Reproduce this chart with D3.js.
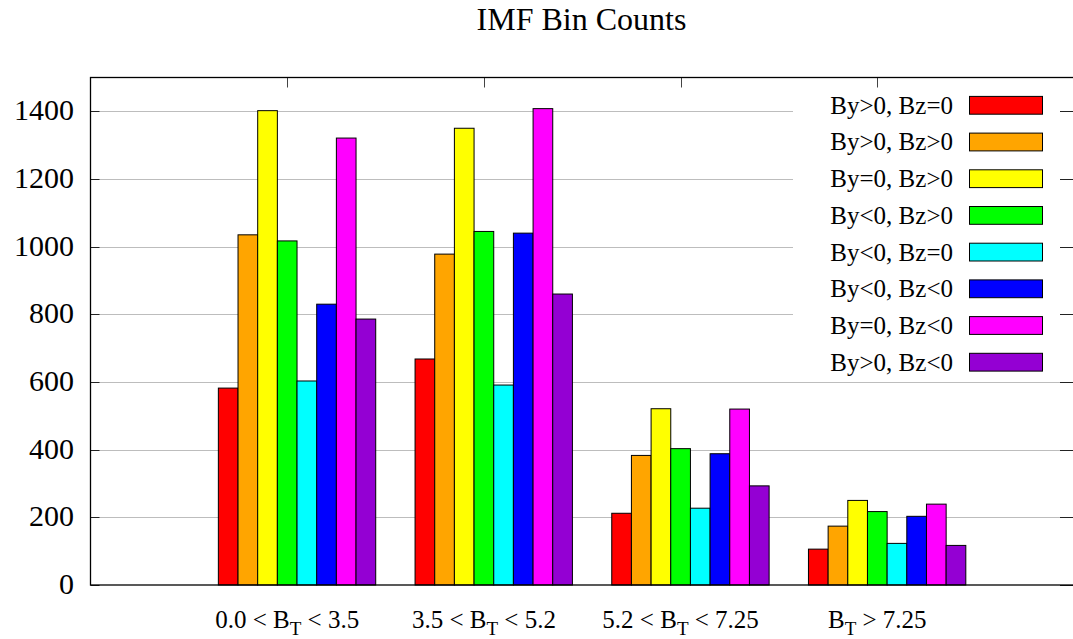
<!DOCTYPE html>
<html>
<head>
<meta charset="utf-8">
<script src="https://cdn.jsdelivr.net/npm/d3@7"></script>
<style>
  html, body { margin: 0; padding: 0; background: #fff; }
  svg { display: block; font-family: "Liberation Serif", "Times New Roman", serif; }
</style>
</head>
<body>
<svg id="chart" width="1073" height="639"></svg>
<script>
// ---- data ----
const categories = ["0.0 < B|T| < 3.5", "3.5 < B|T| < 5.2", "5.2 < B|T| < 7.25", "B|T| > 7.25"];
const seriesNames = ["By>0, Bz=0", "By>0, Bz>0", "By=0, Bz>0", "By<0, Bz>0",
                     "By<0, Bz=0", "By<0, Bz<0", "By=0, Bz<0", "By>0, Bz<0"];
const seriesColors = ["#ff0000", "#ffa500", "#ffff00", "#00ff00",
                      "#00ffff", "#0000ff", "#ff00ff", "#9400d3"];
// values[series][category]
const byPosBzZero = [582, 668, 212, 106];
const byPosBzPos  = [1035, 978, 383, 174];
const byZeroBzPos = [1402, 1350, 521, 250];
const byNegBzPos  = [1017, 1045, 403, 217];
const byNegBzZero = [603, 591, 227, 123];
const byNegBzNeg  = [830, 1040, 388, 203];
const byZeroBzNeg = [1321, 1408, 520, 239];
const byPosBzNeg  = [786, 860, 293, 117];
const seriesValues = [byPosBzZero, byPosBzPos, byZeroBzPos, byNegBzPos,
                      byNegBzZero, byNegBzNeg, byZeroBzNeg, byPosBzNeg];
const yTicks = [0, 200, 400, 600, 800, 1000, 1200, 1400];
const title = "IMF Bin Counts";

(function () {
// ---- layout ----
const svg = d3.select("#chart");
const pL = 90.5, pR = 1074, pT = 77.5, pB = 585;
const x = d3.scaleLinear().domain([-1, 4]).range([pL, pR]);
const y = d3.scaleLinear().domain([0, 1500]).range([pB, pT]);
const barW = 0.1; // in x units (8 bars + gap of 2)

// gridlines
svg.append("g").selectAll("line").data(yTicks.filter(d => d > 0)).join("line")
  .attr("x1", pL).attr("x2", pR)
  .attr("y1", d => Math.round(y(d)) + 0.5).attr("y2", d => Math.round(y(d)) + 0.5)
  .attr("stroke", "#bdbdbd").attr("stroke-width", 1);

// bottom ticks (hidden under bars)
svg.append("g").selectAll("line").data(categories).join("line")
  .attr("x1", (d, i) => x(i)).attr("x2", (d, i) => x(i))
  .attr("y1", pB).attr("y2", pB - 10)
  .attr("stroke", "#333");

// bars
const bars = [];
seriesValues.forEach((vals, j) => vals.forEach((v, i) => bars.push({i, j, v})));
svg.append("g").selectAll("rect").data(bars).join("rect")
  .attr("x", d => x(d.i + (d.j - 3.5) * barW))
  .attr("width", d => x(d.i + (d.j - 2.5) * barW) - x(d.i + (d.j - 3.5) * barW))
  .attr("y", d => y(d.v))
  .attr("height", d => y(0) - y(d.v))
  .attr("fill", d => seriesColors[d.j])
  .attr("stroke", "#000").attr("stroke-width", 1);

// legend (opaque box)
const keyG = svg.append("g");
const keyTop = 105.2, keyStep = 36.7;
keyG.append("rect").attr("x", 793).attr("y", 84).attr("width", 267).attr("height", 294)
  .attr("fill", "#fff");
seriesNames.forEach((name, j) => {
  const cy = keyTop + j * keyStep;
  keyG.append("text").attr("x", 953).attr("y", cy + 8.5)
    .attr("text-anchor", "end").attr("font-size", 25).attr("fill", "#000").text(name);
  keyG.append("rect").attr("x", 969.5).attr("y", cy - 8.8).attr("width", 73).attr("height", 17.8)
    .attr("fill", seriesColors[j]).attr("stroke", "#000").attr("stroke-width", 1);
});

// y ticks (left and right mirrored)
const tg = svg.append("g");
tg.selectAll("line.l").data(yTicks).join("line").attr("class", "l")
  .attr("x1", pL).attr("x2", pL + 9)
  .attr("y1", d => Math.round(y(d)) + 0.5).attr("y2", d => Math.round(y(d)) + 0.5)
  .attr("stroke", "#222");
tg.selectAll("line.r").data(yTicks).join("line").attr("class", "r")
  .attr("x1", pR).attr("x2", pR - 14)
  .attr("y1", d => Math.round(y(d)) + 0.5).attr("y2", d => Math.round(y(d)) + 0.5)
  .attr("stroke", "#222");
// top ticks
tg.selectAll("line.t").data(categories).join("line").attr("class", "t")
  .attr("x1", (d, i) => Math.round(x(i)) + 0.5).attr("x2", (d, i) => Math.round(x(i)) + 0.5)
  .attr("y1", pT).attr("y2", pT + 10)
  .attr("stroke", "#444");

// y tick labels
svg.append("g").selectAll("text").data(yTicks).join("text")
  .attr("x", 74).attr("y", d => y(d) + 9)
  .attr("text-anchor", "end").attr("font-size", 30).attr("fill", "#000")
  .text(d => d);

// x tick labels with subscript (B|T| => B subscript T)
const xl = svg.append("g");
categories.forEach((c, i) => {
  const parts = c.split("|");
  const t = xl.append("text").attr("x", x(i)).attr("y", 628)
    .attr("text-anchor", "middle").attr("font-size", 25).attr("fill", "#000");
  t.append("tspan").text(parts[0]);
  t.append("tspan").attr("font-size", 19).attr("dy", 7).text(parts[1]);
  t.append("tspan").attr("dy", -7).text(parts[2]);
});

// border
svg.append("rect").attr("x", pL).attr("y", pT)
  .attr("width", pR - pL).attr("height", pB - pT)
  .attr("fill", "none").attr("stroke", "#000").attr("stroke-width", 1.3);

// title
svg.append("text").attr("x", (pL + 1072.5) / 2).attr("y", 29.5)
  .attr("text-anchor", "middle").attr("font-size", 32).attr("fill", "#000")
  .text(title);
})();
</script>
</body>
</html>
